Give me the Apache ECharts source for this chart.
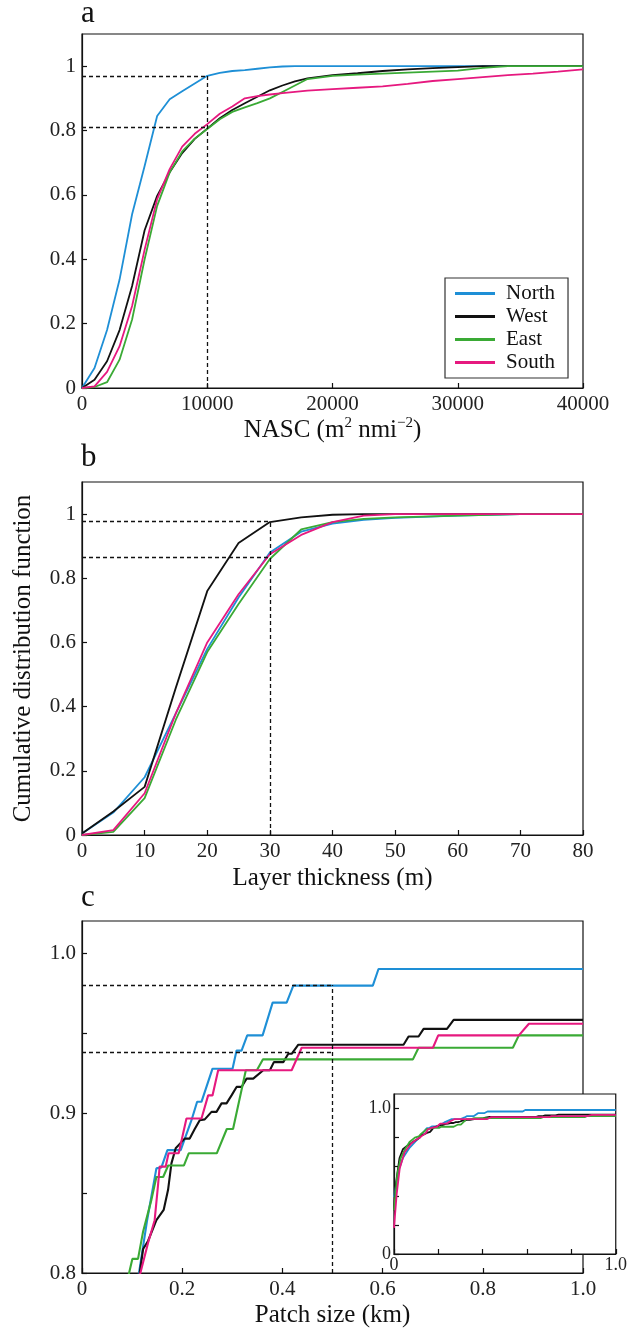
<!DOCTYPE html>
<html>
<head>
<meta charset="utf-8">
<script src="https://cdn.jsdelivr.net/npm/echarts@6/dist/echarts.min.js"></script>
<style>
html, body { margin: 0; padding: 0; background: #fff; }
#main { width: 630px; height: 1330px; }
</style>
</head>
<body>
<div id="main"></div>
<script>
// ---- panel a : NASC ----
var nascX = [0, 1000, 2000, 3000, 4000, 5000, 6000, 7000, 8000, 9000, 10000, 11000, 12000, 13000, 14000,
  15000, 16000, 17000, 18000, 20000, 22000, 24000, 26000, 28000, 30000, 32000, 34000, 36000, 38000, 40000];
var nascNorth = [0, 0.062, 0.18, 0.337, 0.54, 0.69, 0.845, 0.897, 0.922, 0.946, 0.97, 0.979, 0.985, 0.988, 0.992,
  0.996, 0.999, 1, 1, 1, 1, 1, 1, 1, 1, 1, 1, 1, 1, 1];
var nascWest = [0, 0.026, 0.083, 0.18, 0.317, 0.49, 0.597, 0.67, 0.73, 0.774, 0.806, 0.838, 0.864, 0.885, 0.905,
  0.925, 0.94, 0.953, 0.962, 0.972, 0.978, 0.985, 0.99, 0.994, 0.997, 1, 1, 1, 1, 1];
var nascEast = [0, 0.003, 0.018, 0.088, 0.213, 0.4, 0.566, 0.67, 0.735, 0.775, 0.805, 0.835, 0.858, 0.872, 0.885,
  0.9, 0.92, 0.94, 0.96, 0.97, 0.974, 0.977, 0.98, 0.983, 0.986, 0.995, 1, 1, 1, 1];
var nascSouth = [0, 0.005, 0.05, 0.13, 0.255, 0.43, 0.587, 0.68, 0.75, 0.79, 0.82, 0.852, 0.875, 0.9, 0.907,
  0.912, 0.916, 0.92, 0.924, 0.929, 0.933, 0.937, 0.945, 0.954, 0.96, 0.966, 0.972, 0.977, 0.983, 0.99];
var nascTicks = [0, 10000, 20000, 30000, 40000];
var nascRefX = 10000;
var nascRefY = [0.97, 0.81];

// ---- panel b : layer thickness ----
var layerX = [0, 5, 10, 15, 20, 25, 30, 35, 40, 45, 50, 60, 70, 80];
var layerNorth = [0.005, 0.07, 0.18, 0.38, 0.58, 0.74, 0.88, 0.945, 0.97, 0.982, 0.988, 0.995, 1, 1];
var layerWest = [0.005, 0.073, 0.15, 0.46, 0.76, 0.91, 0.975, 0.99, 0.998, 1, 1, 1, 1, 1];
var layerEast = [0, 0.01, 0.115, 0.36, 0.57, 0.72, 0.86, 0.952, 0.975, 0.985, 0.99, 0.995, 1, 1];
var layerSouth = [0, 0.015, 0.13, 0.38, 0.6, 0.75, 0.875, 0.935, 0.975, 0.995, 1, 1, 1, 1];
var layerTicks = [0, 10, 20, 30, 40, 50, 60, 70, 80];
var layerRefX = 30;
var layerRefY = [0.979, 0.867];

var cdfTicks = [0, 0.2, 0.4, 0.6, 0.8, 1];

// ---- panel c : patch size ([km, cdf]) ----
var patchNorth = [[0, 0.39], [0.02, 0.57], [0.04, 0.66], [0.07, 0.73], [0.095, 0.77], [0.1138, 0.8], [0.13, 0.833],
  [0.1485, 0.8654], [0.1585, 0.866], [0.1705, 0.8768], [0.197, 0.8768], [0.2185, 0.8955], [0.2298, 0.907],
  [0.2385, 0.907], [0.2605, 0.9277], [0.3005, 0.9277], [0.3085, 0.939], [0.3185, 0.939], [0.3298, 0.9485],
  [0.3605, 0.9485], [0.3805, 0.969], [0.4085, 0.969], [0.4218, 0.9796], [0.5805, 0.9796], [0.5918, 0.99], [1.0, 0.99]];
var patchWest = [[0, 0.3], [0.01, 0.5], [0.025, 0.66], [0.04, 0.72], [0.06, 0.745], [0.09, 0.775], [0.1152, 0.8],
  [0.122, 0.815], [0.1318, 0.82], [0.1485, 0.833], [0.163, 0.8394], [0.1718, 0.852], [0.1785, 0.8685], [0.187, 0.878],
  [0.205, 0.884], [0.215, 0.884], [0.225, 0.89], [0.235, 0.8955], [0.245, 0.896], [0.2585, 0.9007], [0.2685, 0.9007],
  [0.2785, 0.906], [0.2885, 0.906], [0.2985, 0.911], [0.3085, 0.9163], [0.3185, 0.9163], [0.3285, 0.9215],
  [0.3418, 0.9215], [0.3618, 0.9267], [0.375, 0.9267], [0.383, 0.9318], [0.4018, 0.9318], [0.4118, 0.937],
  [0.4185, 0.937], [0.4318, 0.9427], [0.6418, 0.9427], [0.6518, 0.9478], [0.6718, 0.9478], [0.6818, 0.9526],
  [0.7285, 0.9526], [0.7418, 0.9582], [1.0, 0.9582]];
var patchEast = [[0, 0.3], [0.015, 0.55], [0.03, 0.66], [0.05, 0.72], [0.07, 0.77], [0.094, 0.8], [0.1005, 0.8088],
  [0.1118, 0.8088], [0.122, 0.826], [0.1385, 0.8457], [0.1485, 0.86], [0.162, 0.86], [0.172, 0.8672], [0.2035, 0.8672],
  [0.213, 0.8748], [0.269, 0.8748], [0.289, 0.89], [0.3015, 0.89], [0.327, 0.9267], [0.349, 0.9267], [0.361, 0.9335],
  [0.6605, 0.9335], [0.6718, 0.9408], [0.86, 0.9408], [0.872, 0.9485], [1.0, 0.9485]];
var patchSouth = [[0, 0.18], [0.012, 0.41], [0.026, 0.59], [0.048, 0.7], [0.078, 0.76], [0.1, 0.785], [0.1165, 0.8],
  [0.1318, 0.8187], [0.145, 0.833], [0.1518, 0.855], [0.155, 0.8665], [0.167, 0.8665], [0.1728, 0.8748], [0.193, 0.8748],
  [0.2085, 0.8966], [0.2385, 0.8966], [0.2518, 0.911], [0.2605, 0.911], [0.2718, 0.9267], [0.4185, 0.9267],
  [0.4385, 0.9408], [0.7005, 0.9408], [0.711, 0.9485], [0.872, 0.9485], [0.892, 0.9558], [1.0, 0.9558]];
var patchTicks = [0, 0.2, 0.4, 0.6, 0.8, 1.0];
var patchYTicks = [0.8, 0.85, 0.9, 0.95, 1.0];
var patchYLabels = [0.8, 0.9, 1.0];
var patchRefX = 0.5;
var patchRefY = [0.98, 0.938];
var insetTicks = [0, 0.2, 0.4, 0.6, 0.8, 1.0];
var insetLabels = [0, 1.0];

var names = ['North', 'West', 'East', 'South'];
var colors = ['#1e8fd6', '#111111', '#3aaa35', '#e6197f'];
var serif = '"Liberation Serif", "Times New Roman", serif';

var myChart = echarts.init(document.getElementById('main'));

function zip(xs, ys) {
  return xs.map(function (x, i) { return [x, ys[i]]; });
}

function lineSeries(name, color, data, idx, width, z) {
  return {
    name: name,
    type: 'line',
    xAxisIndex: idx,
    yAxisIndex: idx,
    data: data,
    showSymbol: false,
    symbol: 'none',
    color: color,
    lineStyle: { color: color, width: width },
    z: z || 2,
    silent: true,
    animation: false
  };
}

// dashed guide lines drawn as markLine of an empty series
function refSeries(idx, refX, refY, yMin) {
  var lines = refY.map(function (y) {
    return [{ coord: [0, y] }, { coord: [refX, y] }];
  });
  lines.push([{ coord: [refX, yMin] }, { coord: [refX, Math.max.apply(null, refY)] }]);
  return {
    type: 'line',
    xAxisIndex: idx,
    yAxisIndex: idx,
    data: [],
    silent: true,
    animation: false,
    markLine: {
      symbol: ['none', 'none'],
      silent: true,
      animation: false,
      label: { show: false },
      lineStyle: { color: '#111', type: [4, 3], width: 1.3 },
      data: lines
    }
  };
}

function axisBase(idx, min, max, tickVals, labelVals, fmt) {
  return {
    type: 'value',
    gridIndex: idx,
    min: min,
    max: max,
    splitLine: { show: false },
    axisLine: { show: true, onZero: false, lineStyle: { color: '#111', width: 1.2 } },
    axisTick: { show: true, inside: true, length: 5, customValues: tickVals, lineStyle: { color: '#111', width: 1.2 } },
    axisLabel: {
      customValues: labelVals,
      formatter: fmt,
      fontFamily: serif,
      fontSize: 21,
      color: '#222',
      margin: 6
    }
  };
}

function plain(v) { return String(+v.toFixed(2)); }
function oneDec(v) { return v === 0 ? '0' : v.toFixed(1); }

var nameStyle = { fontFamily: serif, fontSize: 25, color: '#111' };

var xAxes = [
  Object.assign(axisBase(0, 0, 40000, nascTicks, nascTicks, plain), {
    name: 'NASC (m{sup|2} nmi{sup|\u22122})',
    nameLocation: 'middle',
    nameGap: 27,
    nameTextStyle: {
      fontFamily: serif, fontSize: 25, color: '#111', lineHeight: 30,
      rich: { sup: { fontFamily: serif, fontSize: 15, lineHeight: 15, verticalAlign: 'top', color: '#111' } }
    }
  }),
  Object.assign(axisBase(1, 0, 80, layerTicks, layerTicks, plain), {
    name: 'Layer thickness (m)', nameLocation: 'middle', nameGap: 31, nameTextStyle: nameStyle
  }),
  Object.assign(axisBase(2, 0, 1, patchTicks, patchTicks, oneDec), {
    name: 'Patch size (km)', nameLocation: 'middle', nameGap: 30, nameTextStyle: nameStyle
  }),
  axisBase(3, 0, 1, insetTicks, insetLabels, oneDec)
];
var yAxes = [
  axisBase(0, 0, 1.1, cdfTicks, cdfTicks, plain),
  Object.assign(axisBase(1, 0, 1.1, cdfTicks, cdfTicks, plain), {
    name: 'Cumulative distribution function', nameLocation: 'middle', nameGap: 46,
    nameTextStyle: { fontFamily: serif, fontSize: 25, color: '#111' }
  }),
  axisBase(2, 0.8, 1.02, patchYTicks, patchYLabels, oneDec),
  axisBase(3, 0, 1.1, cdfTicks, insetLabels, oneDec)
];
// inset: smaller labels, drawn above panel c
xAxes[3].axisLabel.fontSize = 18;
xAxes[3].axisLabel.margin = 2;
xAxes[3].z = 12;
yAxes[3].axisLabel.fontSize = 18;
yAxes[3].axisLabel.margin = 3;
yAxes[3].z = 12;

var series = [];
var nasc = [nascNorth, nascWest, nascEast, nascSouth];
var layer = [layerNorth, layerWest, layerEast, layerSouth];
var patch = [patchNorth, patchWest, patchEast, patchSouth];
for (var i = 0; i < 4; i++) {
  series.push(lineSeries(names[i], colors[i], zip(nascX, nasc[i]), 0, 1.8));
  series.push(lineSeries(names[i], colors[i], zip(layerX, layer[i]), 1, 1.8));
  series.push(lineSeries(names[i], colors[i], patch[i], 2, 2.1));
  series.push(lineSeries(names[i], colors[i], patch[i], 3, 1.8, 13));
}
series.push(refSeries(0, nascRefX, nascRefY, 0));
series.push(refSeries(1, layerRefX, layerRefY, 0));
series.push(refSeries(2, patchRefX, patchRefY, 0.8));

var gridStyle = { show: true, borderColor: '#111', borderWidth: 1.2, backgroundColor: 'transparent' };
var panelLabel = { fontFamily: serif, fontSize: 31, fontWeight: 'normal', color: '#111' };

var option = {
  backgroundColor: '#fff',
  animation: false,
  title: [
    { text: 'a', left: 81, top: -2, padding: 0, textStyle: panelLabel },
    { text: 'b', left: 81, top: 442, padding: 0, textStyle: panelLabel },
    { text: 'c', left: 81, top: 882, padding: 0, textStyle: panelLabel }
  ],
  legend: {
    data: names,
    orient: 'vertical',
    left: 445,
    top: 278,
    padding: [5, 13, 5, 10],
    itemGap: 2,
    itemWidth: 40,
    itemHeight: 3,
    icon: 'rect',
    selectedMode: false,
    borderColor: '#333',
    borderWidth: 1.2,
    backgroundColor: '#fff',
    textStyle: { fontFamily: serif, fontSize: 21, color: '#111', lineHeight: 20, padding: [0, 0, 0, 6] }
  },
  grid: [
    Object.assign({ left: 82, top: 34, width: 501, height: 354 }, gridStyle),
    Object.assign({ left: 82, top: 482, width: 501, height: 353 }, gridStyle),
    Object.assign({ left: 82, top: 921, width: 501, height: 352 }, gridStyle),
    { show: true, left: 394, top: 1094, width: 228, height: 160, borderColor: '#111', borderWidth: 1.2, backgroundColor: '#fff', z: 10 }
  ],
  xAxis: xAxes,
  yAxis: yAxes,
  series: series
};

myChart.setOption(option);
</script>
</body>
</html>
